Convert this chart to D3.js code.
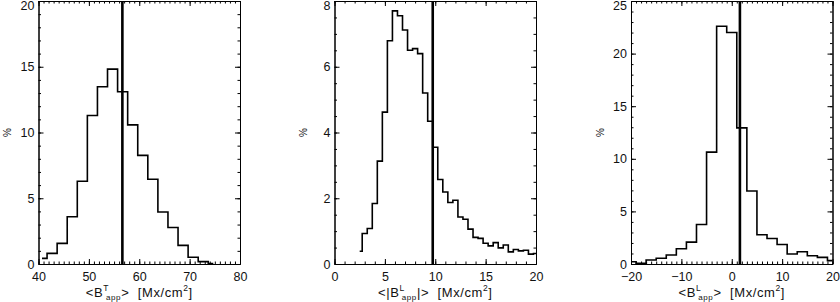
<!DOCTYPE html>
<html>
<head>
<meta charset="utf-8">
<script src="https://cdn.jsdelivr.net/npm/d3@7"></script>
<style>
  body { margin: 0; background: #fff; }
  text { font-family: "Liberation Sans", Helvetica, Arial, sans-serif; fill: #111; }
</style>
</head>
<body>
<svg id="vis"></svg>
<script>
// histogram of <B^T_app>, bin centres and percentages
var btCenters = [40.7, 42.7, 44.7, 46.7, 48.7, 50.7, 52.7, 54.7, 56.7, 58.7, 60.7, 62.7, 64.7, 66.7, 68.7, 70.7, 72.7, 74.7];
var btValues  = [0.43, 0.81, 1.57, 3.59, 6.29, 11.29, 13.48, 14.82, 13.1, 10.58, 8.26, 6.44, 3.96, 2.78, 1.42, 0.51, 0.18, 0.03];
var btMark = 56.65;

// histogram of <|B^L_app|>
var blAbsCenters = [2.5, 3.0, 3.5, 4.0, 4.5, 5.0, 5.5, 6.0, 6.5, 7.0, 7.5, 8.0, 8.5, 9.0, 9.5, 10.0, 10.5, 11.0,
                    11.5, 12.0, 12.5, 13.0, 13.5, 14.0, 14.5, 15.0, 15.5, 16.0, 16.5, 17.0, 17.5, 18.0, 18.5, 19.0, 19.5, 20.0];
var blAbsValues  = [0.39, 0.93, 1.08, 1.84, 3.13, 4.62, 6.79, 7.7, 7.55, 7.12, 6.5, 6.55, 6.4, 5.2, 4.34, 3.55, 2.57, 2.19,
                    1.87, 1.94, 1.43, 1.36, 1.06, 0.81, 0.78, 0.63, 0.55, 0.65, 0.49, 0.58, 0.37, 0.44, 0.40, 0.42, 0.30, 0.32];
var blAbsMark = 9.75;

// histogram of <B^L_app>
var blCenters = [-20, -18, -16, -14, -12, -10, -8, -6, -4, -2, 0, 2, 4, 6, 8, 10, 12, 14, 16, 18, 20];
var blValues  = [0.22, 0.06, 0.38, 0.54, 0.85, 1.45, 2.08, 3.76, 10.63, 22.6, 22.0, 12.94, 6.94, 2.78, 2.43, 1.86, 0.95, 1.17, 0.79, 0.63, 0.32];
var blMark = 1.62;

// axis ticks
var btXTicks = [40, 50, 60, 70, 80], btYTicks = [0, 5, 10, 15, 20];
var blAbsXTicks = [0, 5, 10, 15, 20], blAbsYTicks = [0, 2, 4, 6, 8];
var blXTicks = [-20, -10, 0, 10, 20], blYTicks = [0, 5, 10, 15, 20, 25];

var width = 840, height = 302;
var svg = d3.select("#vis").attr("width", width).attr("height", height);

var top0 = 1, bottom0 = 264, plotW = 201.5;

var panels = [
  { left: 38.5, xDom: [40, 80], yDom: [0, 20], xT: btXTicks, yT: btYTicks, xMinor: 1, yMinor: 1,
    cx: btCenters, cy: btValues, mark: btMark,
    title: [["<B", 0], ["T", 1], ["app", -1], [">  [Mx/cm", 0], ["2", 1], ["]", 0]] },
  { left: 334.5, xDom: [0, 20], yDom: [0, 8], xT: blAbsXTicks, yT: blAbsYTicks, xMinor: 1, yMinor: 0.5,
    cx: blAbsCenters, cy: blAbsValues, mark: blAbsMark,
    title: [["<|B", 0], ["L", 1], ["app", -1], ["|>  [Mx/cm", 0], ["2", 1], ["]", 0]] },
  { left: 631, xDom: [-20, 20], yDom: [0, 25], xT: blXTicks, yT: blYTicks, xMinor: 1, yMinor: 1,
    cx: blCenters, cy: blValues, mark: blMark,
    title: [["<B", 0], ["L", 1], ["app", -1], [">  [Mx/cm", 0], ["2", 1], ["]", 0]] }
];

function minorTicks(dom, step) {
  var out = [];
  for (var v = dom[0]; v <= dom[1] + 1e-9; v += step) out.push(+v.toFixed(4));
  return out;
}

function styleAxis(g) {
  g.attr("font-family", null).attr("font-size", null);
  g.selectAll("path.domain").attr("stroke", "#000").attr("stroke-width", 1);
  g.selectAll(".tick line").attr("stroke", "#000").attr("stroke-width", 1);
  g.selectAll(".tick text").style("font-size", "12.5px").attr("fill", "#111");
}

panels.forEach(function(p) {
  var x = d3.scaleLinear().domain(p.xDom).range([p.left, p.left + plotW]);
  var y = d3.scaleLinear().domain(p.yDom).range([bottom0, top0]);
  var g = svg.append("g");

  // minor ticks (all four sides)
  var xm = minorTicks(p.xDom, p.xMinor), ym = minorTicks(p.yDom, p.yMinor);
  g.append("g").attr("transform", "translate(0," + bottom0 + ")")
    .call(d3.axisBottom(x).tickValues(xm).tickSize(-2.5).tickSizeOuter(0).tickFormat("")).call(styleAxis);
  g.append("g").attr("transform", "translate(0," + top0 + ")")
    .call(d3.axisTop(x).tickValues(xm).tickSize(-2.5).tickSizeOuter(0).tickFormat("")).call(styleAxis);
  g.append("g").attr("transform", "translate(" + p.left + ",0)")
    .call(d3.axisLeft(y).tickValues(ym).tickSize(-2.5).tickSizeOuter(0).tickFormat("")).call(styleAxis);
  g.append("g").attr("transform", "translate(" + (p.left + plotW) + ",0)")
    .call(d3.axisRight(y).tickValues(ym).tickSize(-2.5).tickSizeOuter(0).tickFormat("")).call(styleAxis);

  // major ticks
  g.append("g").attr("transform", "translate(0," + bottom0 + ")")
    .call(d3.axisBottom(x).tickValues(p.xT).tickSize(-5).tickSizeOuter(0).tickPadding(8)).call(styleAxis);
  g.append("g").attr("transform", "translate(0," + top0 + ")")
    .call(d3.axisTop(x).tickValues(p.xT).tickSize(-5).tickSizeOuter(0).tickFormat("")).call(styleAxis);
  var yl = g.append("g").attr("transform", "translate(" + p.left + ",0)")
    .call(d3.axisLeft(y).tickValues(p.yT).tickSize(-5).tickSizeOuter(0).tickPadding(4)).call(styleAxis);
  g.append("g").attr("transform", "translate(" + (p.left + plotW) + ",0)")
    .call(d3.axisRight(y).tickValues(p.yT).tickSize(-5).tickSizeOuter(0).tickFormat("")).call(styleAxis);

  // top label is pushed down to stay inside the picture
  yl.selectAll(".tick").filter(function(d) { return d === p.yDom[1]; })
    .select("text").attr("y", 4.8);

  // histogram
  var line = d3.line().x(function(d) { return x(d[0]); }).y(function(d) { return y(d[1]); })
    .curve(d3.curveStep);
  g.append("path")
    .datum(d3.zip(p.cx, p.cy))
    .attr("d", line)
    .attr("fill", "none")
    .attr("stroke", "#000")
    .attr("stroke-width", 1.6);

  // vertical marker
  g.append("line")
    .attr("x1", x(p.mark)).attr("x2", x(p.mark))
    .attr("y1", y(p.yDom[0])).attr("y2", y(p.yDom[1]))
    .attr("stroke", "#000").attr("stroke-width", 2.6);

  // y title
  g.append("text")
    .attr("transform", "translate(" + (p.left - 31) + "," + ((top0 + bottom0) / 2) + ") rotate(-90)")
    .attr("text-anchor", "middle")
    .attr("dy", "0.35em")
    .style("font-size", "10px")
    .text("%");

  // x title with super/subscripts
  var t = g.append("text")
    .attr("x", (x.range()[0] + x.range()[1]) / 2)
    .attr("y", 296.5)
    .attr("text-anchor", "middle")
    .attr("xml:space", "preserve")
    .style("white-space", "pre")
    .style("letter-spacing", "0.6px")
    .style("font-size", "13px");
  var shift = 0;
  p.title.forEach(function(part) {
    var ts = t.append("tspan").text(part[0]);
    var target = part[1] === 1 ? -5.5 : part[1] === -1 ? 3 : 0;
    ts.attr("dy", target - shift);
    shift = target;
    if (part[1] !== 0) ts.style("font-size", part[1] === 1 ? "8.5px" : "8px");
    if (part[0] === "app") ts.attr("dx", -3);
  });
});
</script>
</body>
</html>
